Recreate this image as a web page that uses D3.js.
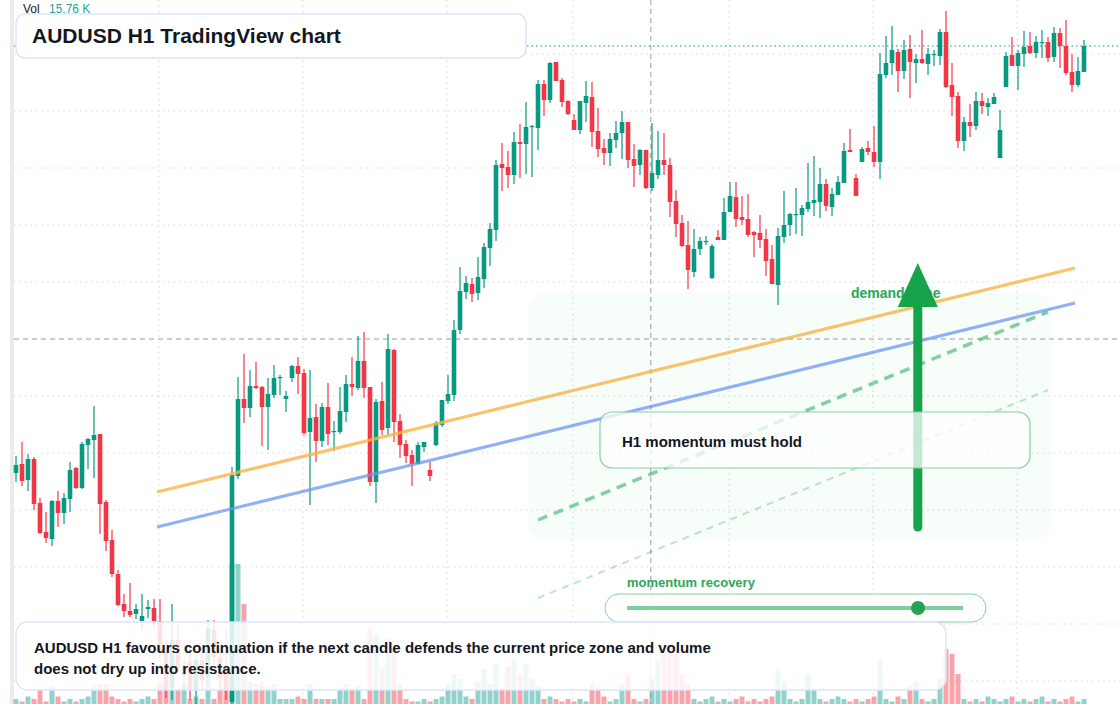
<!DOCTYPE html>
<html>
<head>
<meta charset="utf-8">
<script src="https://cdn.jsdelivr.net/npm/d3@7"></script>
<style>
  html, body { margin: 0; padding: 0; background: #fff; }
  svg { display: block; font-family: "Liberation Sans", Arial, sans-serif; }
</style>
</head>
<body>
<svg id="chart"></svg>
<script>
// AUDUSD H1 candles, [open, high, low, close] in points (price * 1e5)
let candles = [
  [65527,65544,65518,65535],[65536,65558,65514,65519],[65520,65546,65509,65541],[65541,65543,65490,65496],
  [65497,65502,65466,65467],[65468,65488,65457,65462],[65461,65500,65454,65499],[65499,65509,65473,65487],
  [65487,65507,65476,65502],[65501,65538,65488,65530],[65532,65533,65511,65512],[65512,65558,65511,65556],
  [65555,65562,65531,65561],[65560,65594,65522,65565],[65566,65566,65466,65496],[65498,65500,65449,65459],
  [65460,65470,65423,65426],[65426,65430,65394,65395],[65396,65406,65383,65389],[65389,65417,65383,65385],
  [65386,65396,65381,65391],[65379,65406,65370,65384],[65391,65400,65382,65393],[65392,65401,65372,65379],
  [65379,65401,65338,65348],[65348,65360,65302,65310],[65312,65396,65300,65360],[65360,65375,65328,65332],
  [65324,65340,65310,65335],[65338,65360,65300,65310],[65310,65345,65296,65340],[65340,65352,65310,65320],
  [65322,65380,65315,65372],[65370,65380,65335,65343],[65343,65350,65310,65322],[65330,65370,65300,65310],
  [65298,65533,65294,65525],[65524,65623,65521,65601],[65601,65646,65577,65592],[65592,65630,65583,65614],
  [65614,65638,65611,65612],[65613,65614,65554,65593],[65593,65622,65550,65606],[65605,65635,65602,65622],
  [65622,65625,65605,65623],[65601,65609,65588,65604],[65622,65635,65618,65634],[65634,65643,65606,65626],
  [65627,65631,65565,65567],[65568,65630,65495,65582],[65583,65596,65538,65559],[65559,65597,65553,65593],
  [65593,65617,65555,65566],[65568,65579,65549,65569],[65568,65613,65566,65589],[65588,65625,65578,65616],
  [65616,65643,65604,65613],[65612,65664,65610,65639],[65639,65668,65602,65612],[65613,65613,65514,65518],
  [65518,65601,65497,65598],[65599,65618,65565,65570],[65572,65666,65565,65651],[65650,65651,65558,65578],
  [65579,65586,65542,65555],[65556,65560,65537,65544],[65545,65550,65514,65536],[65536,65558,65536,65555],
  [65553,65558,65548,65558],[65530,65538,65519,65524],[65555,65579,65554,65577],[65575,65600,65573,65600],
  [65599,65625,65596,65606],[65605,65680,65599,65670],[65670,65733,65666,65709],[65708,65724,65701,65717],
  [65716,65722,65698,65706],[65707,65743,65700,65723],[65721,65757,65712,65753],[65752,65777,65734,65771],
  [65770,65840,65759,65835],[65836,65857,65809,65832],[65833,65849,65812,65825],[65825,65868,65816,65858],
  [65858,65876,65822,65856],[65856,65898,65826,65873],[65873,65875,65823,65874],[65872,65920,65850,65916],
  [65916,65920,65884,65900],[65900,65938,65897,65937],[65938,65938,65919,65919],[65920,65922,65893,65898],
  [65899,65900,65885,65886],[65880,65886,65870,65870],[65870,65899,65866,65899],[65897,65919,65878,65904],
  [65903,65918,65853,65868],[65869,65892,65843,65851],[65852,65861,65835,65847],[65847,65867,65834,65861],
  [65860,65879,65852,65867],[65867,65889,65841,65878],[65878,65878,65832,65840],[65841,65856,65813,65834],
  [65835,65851,65825,65850],[65850,65850,65811,65812],[65812,65877,65809,65827],[65825,65869,65821,65840],
  [65840,65867,65825,65835],[65835,65842,65783,65798],[65799,65810,65763,65776],[65777,65785,65753,65754],
  [65755,65779,65711,65730],[65728,65771,65723,65751],[65751,65763,65745,65759],[65758,65764,65755,65759],
  [65722,65756,65721,65754],[65763,65770,65760,65760],[65760,65802,65760,65788],[65788,65818,65788,65804],
  [65803,65818,65773,65781],[65783,65804,65775,65780],[65781,65806,65763,65765],[65768,65769,65743,65765],
  [65767,65785,65752,65760],[65761,65771,65724,65739],[65741,65755,65716,65716],[65715,65772,65695,65764],
  [65763,65809,65757,65775],[65775,65787,65764,65786],[65785,65812,65766,65786],[65785,65795,65764,65792],
  [65791,65837,65788,65798],[65797,65844,65784,65800],[65798,65832,65782,65816],[65816,65821,65789,65794],
  [65793,65812,65784,65806],[65805,65824,65805,65818],[65817,65857,65817,65849],[65850,65871,65848,65848],
  [65822,65826,65804,65804],[65838,65853,65838,65851],[65852,65859,65845,65848],[65848,65874,65833,65838],
  [65838,65947,65821,65926],[65925,65964,65922,65937],[65937,65974,65925,65950],[65948,65951,65908,65929],
  [65929,65960,65921,65950],[65951,65965,65902,65938],[65937,65946,65917,65941],[65941,65970,65936,65937],
  [65936,65952,65925,65946],[65945,65950,65934,65946],[65944,65971,65935,65968],[65968,65989,65912,65913],
  [65915,65937,65884,65903],[65904,65908,65852,65859],[65859,65883,65849,65878],[65878,65896,65863,65874],
  [65874,65908,65870,65899],[65899,65907,65886,65894],[65893,65902,65884,65897],[65896,65907,65896,65903],
  [65842,65890,65842,65870],[65913,65948,65913,65944],[65945,65963,65934,65934],[65934,65950,65910,65947],
  [65946,65969,65933,65953],[65954,65968,65946,65947],[65947,65964,65942,65958],[65957,65970,65942,65958],
  [65958,65963,65938,65942],[65943,65973,65938,65967],[65967,65972,65932,65954],[65954,65980,65925,65927],
  [65928,65946,65908,65915],[65915,65943,65913,65929],[65928,65960,65928,65954]
];

// volume in thousands
let volumes = [
  2,1,3,2,6,1,7,3,1,2, 1,2,3,7,8,8,3,2,1,2, 1,2,3,2,9,8,10,6,8,2, 3,2,10,2,6,7,56,56,40,9,
  8,9,7,8,2,2,2,3,2,8, 2,2,2,2,6,8,6,7,2,30, 28,14,26,22,8,2,1,1,2,1, 2,3,8,12,10,3,2,9,14,8,
  16,6,15,18,12,16,10,7,2,3, 2,1,2,1,2,1,8,7,3,1, 2,8,12,2,1,2,10,18,22,24, 20,12,8,2,1,2,3,1,2,1,
  2,3,1,2,1,2,3,14,9,2, 1,2,12,6,2,1,2,3,2,1, 2,1,2,3,18,2,1,3,2,7, 9,2,1,2,10,22,20,12,2,1,
  2,1,3,2,1,2,3,1,2,1, 2,3,1,2,1,2,3,1,2
];

let gridLevels = [65946, 65889, 65832, 65775, 65718, 65604, 65547, 65490, 65433, 65376, 65319];
let gridCandles = [24, 48, 72, 93, 119, 143, 167];
let crosshair = { idx: 105.8, pts: 65661 };

// trend lines [startIdx, startPts, endIdx, endPts]
let orangeLine = [23.5, 65508, 176.5, 65732];
let blueLine = [23.5, 65473, 176.5, 65697];
let dashedTrend = [87, 65480, 172, 65688];
let lightTrend = [87, 65402, 172, 65610];
let demandZone = [85.2, 65707, 172.7, 65460];
let arrowPath = [150.3, 65473, 65737];

let volLabel = "15.76 K";
let title = "AUDUSD H1 TradingView chart";
let note = ["AUDUSD H1 favours continuation if the next candle defends the current price zone and volume",
            "does not dry up into resistance."];

let width = 1120, height = 704;
let svg = d3.select("#chart").attr("width", width).attr("height", height);

let x = d3.scaleLinear().domain([0, candles.length - 1]).range([16, 1084]);
let y = d3.scaleLinear().domain([0.66000, 0.65296]).range([0, 704]);
let yv = d3.scaleLinear().domain([0, 56]).range([704, 564]);
let P = v => y(v / 1e5);

let up = "#089981", down = "#f23645";

// grid
svg.append("g").selectAll("line").data(gridLevels).join("line")
  .attr("x1", 14).attr("x2", width).attr("y1", P).attr("y2", P)
  .attr("stroke", "#d6d6d6").attr("stroke-dasharray", "1.5,4");
svg.append("g").selectAll("line").data(gridCandles).join("line")
  .attr("x1", d => x(d) - 1).attr("x2", d => x(d) - 1).attr("y1", 0).attr("y2", height)
  .attr("stroke", "#d6d6d6").attr("stroke-dasharray", "1.5,4");

svg.append("rect").attr("x", 10).attr("y", 0).attr("width", 4).attr("height", height).attr("fill", "#ebebeb");

// demand zone
svg.append("rect")
  .attr("x", x(demandZone[0])).attr("y", P(demandZone[1]))
  .attr("width", x(demandZone[2]) - x(demandZone[0])).attr("height", P(demandZone[3]) - P(demandZone[1]))
  .attr("rx", 20).attr("fill", "rgba(34,197,94,0.035)");

// volume
svg.append("g").selectAll("rect").data(volumes).join("rect")
  .attr("x", (d, i) => x(i) - 2.5).attr("width", 5)
  .attr("y", d => yv(d)).attr("height", d => yv(0) - yv(d))
  .attr("fill", (d, i) => candles[i][3] >= candles[i][0] ? "rgba(38,166,154,0.5)" : "rgba(242,54,69,0.45)");

// crosshair
svg.append("line").attr("x1", 14).attr("x2", width).attr("y1", P(crosshair.pts)).attr("y2", P(crosshair.pts))
  .attr("stroke", "#9a9a9a").attr("stroke-dasharray", "5,4");
svg.append("line").attr("x1", x(crosshair.idx)).attr("x2", x(crosshair.idx)).attr("y1", 0).attr("y2", height)
  .attr("stroke", "#9a9a9a").attr("stroke-dasharray", "5,4");

// candles
let g = svg.append("g");
g.selectAll("line").data(candles).join("line")
  .attr("x1", (d, i) => x(i)).attr("x2", (d, i) => x(i))
  .attr("y1", d => P(d[1])).attr("y2", d => P(d[2]))
  .attr("stroke", d => d[3] >= d[0] ? up : down).attr("stroke-width", 1.2);
g.selectAll("rect").data(candles).join("rect")
  .attr("x", (d, i) => x(i) - 2.3).attr("width", 4.6)
  .attr("y", d => P(Math.max(d[0], d[3])))
  .attr("height", d => Math.max(1.2, Math.abs(P(d[0]) - P(d[3]))))
  .attr("fill", d => d[3] >= d[0] ? up : down);

// last price line
let last = candles[candles.length - 1][3];
svg.append("line").attr("x1", 14).attr("x2", width).attr("y1", P(last)).attr("y2", P(last))
  .attr("stroke", up).attr("stroke-dasharray", "1.5,3");

// trend lines
function seg(l, color, w, dash) {
  svg.append("line")
    .attr("x1", x(l[0])).attr("y1", P(l[1])).attr("x2", x(l[2])).attr("y2", P(l[3]))
    .attr("stroke", color).attr("stroke-width", w).attr("stroke-dasharray", dash || null);
}
seg(orangeLine, "rgba(246,180,70,0.8)", 3);
seg(blueLine, "rgba(110,150,240,0.75)", 3);
seg(dashedTrend, "rgba(34,170,90,0.55)", 3.5, "10,7");
seg(lightTrend, "rgba(34,170,90,0.3)", 2, "7,6");

// demand label + arrow
svg.append("text").attr("x", 851).attr("y", 298).text("demand zone")
  .attr("font-size", 14).attr("font-weight", "bold").attr("fill", "#2aa75a");
let ax = x(arrowPath[0]);
svg.append("line").attr("x1", ax).attr("x2", ax).attr("y1", P(arrowPath[1])).attr("y2", P(arrowPath[2]) + 38)
  .attr("stroke", "#16a34a").attr("stroke-width", 9).attr("stroke-linecap", "round");
svg.append("path")
  .attr("d", `M${ax},${P(arrowPath[2])} L${ax - 20},${P(arrowPath[2]) + 44} L${ax + 20},${P(arrowPath[2]) + 44} Z`)
  .attr("fill", "#16a34a");

// momentum box
svg.append("rect").attr("x", 600).attr("y", 412).attr("width", 430).attr("height", 56).attr("rx", 12)
  .attr("fill", "rgba(255,255,255,0.75)").attr("stroke", "#86d0a0").attr("stroke-width", 1.2);
svg.append("text").attr("x", 622).attr("y", 447).text("H1 momentum must hold")
  .attr("font-size", 15).attr("font-weight", "bold").attr("fill", "#131722");

// momentum recovery slider
svg.append("text").attr("x", 627).attr("y", 587).text("momentum recovery")
  .attr("font-size", 13).attr("font-weight", "bold").attr("fill", "#2aa75a");
svg.append("rect").attr("x", 605).attr("y", 594).attr("width", 381).attr("height", 28).attr("rx", 14)
  .attr("fill", "rgba(255,255,255,0.85)").attr("stroke", "#86d0a0");
svg.append("line").attr("x1", 627).attr("x2", 963).attr("y1", 608).attr("y2", 608)
  .attr("stroke", "#7fcf9a").attr("stroke-width", 4);
svg.append("circle").attr("cx", 918).attr("cy", 608).attr("r", 7).attr("fill", "#22a454");

// title box
svg.append("rect").attr("x", 16).attr("y", 14).attr("width", 510).attr("height", 44).attr("rx", 9)
  .attr("fill", "rgba(255,255,255,0.95)").attr("stroke", "#dbe6fb").attr("stroke-width", 1.5);
svg.append("text").attr("x", 32).attr("y", 43).text(title)
  .attr("font-size", 21).attr("font-weight", "bold").attr("fill", "#131722");
svg.append("text").attr("x", 23).attr("y", 13).text("Vol").attr("font-size", 12).attr("fill", "#131722");
svg.append("text").attr("x", 49).attr("y", 13).text(volLabel).attr("font-size", 12).attr("fill", "#26a69a");

// note box
svg.append("rect").attr("x", 16).attr("y", 622).attr("width", 930).attr("height", 68).attr("rx", 12)
  .attr("fill", "rgba(255,255,255,0.85)").attr("stroke", "#dbe6fb").attr("stroke-width", 1.5);
svg.selectAll("text.note").data(note).join("text").attr("class", "note")
  .attr("x", 34).attr("y", (d, i) => 653 + i * 21).text(d => d)
  .attr("font-size", 15).attr("font-weight", "bold").attr("fill", "#131722");
</script>
</body>
</html>
